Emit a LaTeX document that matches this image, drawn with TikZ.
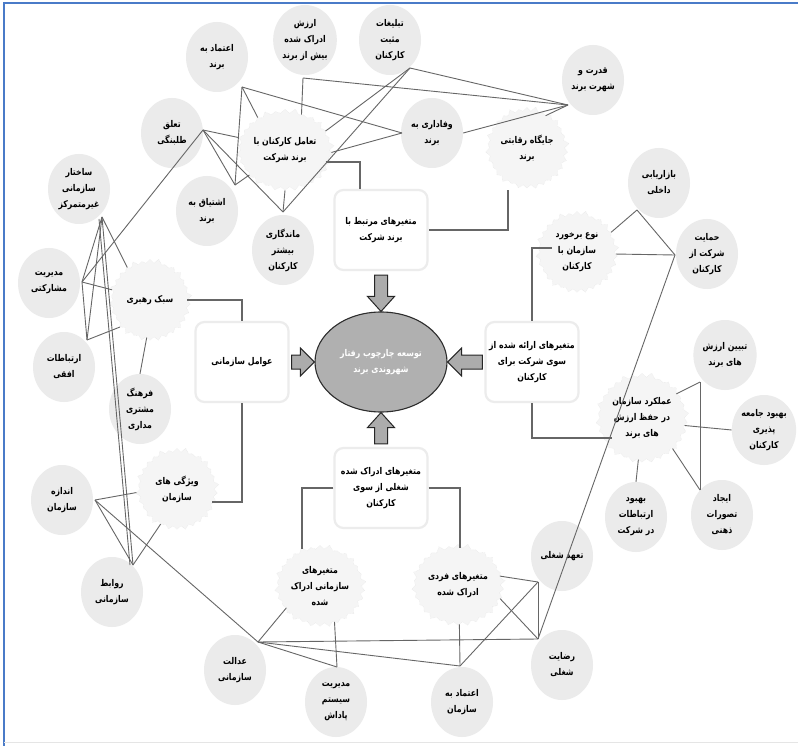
\documentclass[tikz,border=0pt]{standalone}
\usepackage{fontspec}
\usetikzlibrary{shapes.geometric,shapes.symbols,calc}
\TeXXeTstate=1
\newfontfamily\arabicfont[Script=Arabic,FakeStretch=0.84]{DejaVu Sans}
\newcommand\fa[1]{\beginR#1\endR}
\definecolor{framecol}{HTML}{4A7BC8}
\begin{document}
\begin{tikzpicture}[x=1pt,y=-1pt,
  txt/.style={align=center,font=\arabicfont\bfseries\fontsize{9.3}{16}\selectfont},
  leaf/.style={txt,ellipse,fill=gray!16,minimum width=62pt,minimum height=70pt,inner sep=0pt},
  burst/.style={txt,starburst,starburst points=30,starburst point height=5pt,
    fill=gray!8,draw=gray!22,densely dotted,minimum size=84pt,inner sep=0pt},
  box/.style={txt,rectangle,rounded corners=9pt,fill=white,draw=gray!15,line width=2.2pt,
    minimum width=93pt,minimum height=80pt,inner sep=1pt},
  core/.style={txt,ellipse,fill=gray!62,draw=gray!35!black,line width=1.1pt,
    minimum width=132pt,minimum height=100pt,text=white},
  elbow/.style={draw=gray!80!black,line width=1.3pt},
  web/.style={draw=gray!80!black,line width=0.9pt},
  barrow/.style={fill=gray!65,draw=gray!30!black,line width=1pt,line join=miter}]

\useasboundingbox (0,0) rectangle (798,746);
\fill[white] (0,0) rectangle (798,746);
% frame
\draw[framecol,line width=1.6pt] (4,746) -- (4,3) -- (798,3);
\draw[gray!20,line width=1pt] (4,742) -- (798,742);

% central concept and the four groups
\node[core] (core) at (381,362) {\fa{توسعه چارچوب رفتار}\\\fa{شهروندی برند}};
\node[box] (topbox) at (381,230) {\fa{متغیرهای مرتبط با}\\\fa{برند شرکت}};
\node[box] (leftbox) at (242,362) {\fa{عوامل سازمانی}};
\node[box] (rightbox) at (532,362) {\fa{متغیرهای ارائه شده از}\\\fa{سوی شرکت برای}\\\fa{کارکنان}};
\node[box] (bottombox) at (381,488) {\fa{متغیرهای ادراک شده}\\\fa{شغلی از سوی}\\\fa{کارکنان}};

% block arrows into the core
\path[barrow] ($(topbox.south)+(-6.5,4)$) -- ($(core.north)+(-6.5,-15)$) -- ($(core.north)+(-13.5,-15)$)
  -- (core.north) -- ($(core.north)+(13.5,-15)$) -- ($(core.north)+(6.5,-15)$) -- ($(topbox.south)+(6.5,4)$) -- cycle;
\path[barrow] ($(bottombox.north)+(-6.5,-3)$) -- ($(core.south)+(-6.5,15)$) -- ($(core.south)+(-13.5,15)$)
  -- (core.south) -- ($(core.south)+(13.5,15)$) -- ($(core.south)+(6.5,15)$) -- ($(bottombox.north)+(6.5,-3)$) -- cycle;
\path[barrow] ($(leftbox.east)+(2,-7)$) -- ($(core.west)+(-14,-7)$) -- ($(core.west)+(-14,-14)$)
  -- (core.west) -- ($(core.west)+(-14,14)$) -- ($(core.west)+(-14,7)$) -- ($(leftbox.east)+(2,7)$) -- cycle;
\path[barrow] ($(rightbox.west)+(-2,-7)$) -- ($(core.east)+(14,-7)$) -- ($(core.east)+(14,-14)$)
  -- (core.east) -- ($(core.east)+(14,14)$) -- ($(core.east)+(14,7)$) -- ($(rightbox.west)+(-2,7)$) -- cycle;

% sub-groups
\node[burst] (engage) at (285,150) {\fa{تعامل کارکنان با}\\\fa{برند شرکت}};
\node[burst] (compete) at (527,148) {\fa{جایگاه رقابتی}\\\fa{برند}};
\node[burst] (lead) at (150,300) {\fa{سبک رهبری}};
\node[burst] (orgtraits) at (177,489) {\fa{ویژگی های}\\\fa{سازمان}};
\node[burst] (treat) at (577,252) {\fa{نوع برخورد}\\\fa{سازمان با}\\\fa{کارکنان}};
\node[burst,minimum size=92pt] (perform) at (642,418) {\fa{عملکرد سازمان}\\\fa{در حفظ ارزش}\\\fa{های برند}};
\node[burst] (orgperc) at (320,586) {\fa{متغیرهای}\\\fa{سازمانی ادراک}\\\fa{شده}};
\node[burst] (indperc) at (458,585) {\fa{متغیرهای فردی}\\\fa{ادراک شده}};

% factors
\node[leaf] (trustbrand) at (217,57) {\fa{اعتماد به}\\\fa{برند}};
\node[leaf] (valueperc) at (305,40) {\fa{ارزش}\\\fa{ادراک شده}\\\fa{بیش از برند}};
\node[leaf] (advert) at (390,40) {\fa{تبلیغات}\\\fa{مثبت}\\\fa{کارکنان}};
\node[leaf] (power) at (593,80) {\fa{قدرت و}\\\fa{شهرت برند}};
\node[leaf] (loyal) at (432,133) {\fa{وفاداری به}\\\fa{برند}};
\node[leaf] (belong) at (172,133) {\fa{تعلق}\\\fa{طلبنگی}};
\node[leaf] (decent) at (79,189) {\fa{ساختار}\\\fa{سازمانی}\\\fa{غیرمتمرکز}};
\node[leaf] (passion) at (207,211) {\fa{اشتیاق به}\\\fa{برند}};
\node[leaf] (retain) at (283,250) {\fa{ماندگاری}\\\fa{بیشتر}\\\fa{کارکنان}};
\node[leaf] (partic) at (49,283) {\fa{مدیریت}\\\fa{مشارکتی}};
\node[leaf] (horiz) at (64,367) {\fa{ارتباطات}\\\fa{افقی}};
\node[leaf] (culture) at (140,409) {\fa{فرهنگ}\\\fa{مشتری}\\\fa{مداری}};
\node[leaf] (orgsize) at (62,500) {\fa{اندازه}\\\fa{سازمان}};
\node[leaf] (relations) at (112,592) {\fa{روابط}\\\fa{سازمانی}};
\node[leaf] (justice) at (235,670) {\fa{عدالت}\\\fa{سازمانی}};
\node[leaf] (reward) at (336,702) {\fa{مدیریت}\\\fa{سیستم}\\\fa{پاداش}};
\node[leaf] (trustorg) at (462,702) {\fa{اعتماد به}\\\fa{سازمان}};
\node[leaf] (satisf) at (562,665) {\fa{رضایت}\\\fa{شغلی}};
\node[leaf] (commit) at (562,556) {\fa{تعهد شغلی}};
\node[leaf] (intmkt) at (659,183) {\fa{بازاریابی}\\\fa{داخلی}};
\node[leaf] (support) at (707,254) {\fa{حمایت}\\\fa{شرکت از}\\\fa{کارکنان}};
\node[leaf] (explain) at (725,355) {\fa{تبیین ارزش}\\\fa{های برند}};
\node[leaf] (social) at (764,430) {\fa{بهبود جامعه}\\\fa{پذیری}\\\fa{کارکنان}};
\node[leaf] (mental) at (722,515) {\fa{ایجاد}\\\fa{تصورات}\\\fa{ذهنی}};
\node[leaf] (comms) at (636,517) {\fa{بهبود}\\\fa{ارتباطات}\\\fa{در شرکت}};

% group connectors
\draw[elbow] ($(engage.east)+(-4,12)$) -| ($(topbox.north)+(-21,0)$);
\draw[elbow] ($(compete.south)+(-19,2)$) |- (topbox.east);
\draw[elbow] (lead.east) -| (leftbox.north);
\draw[elbow] (leftbox.south) |- ($(orgtraits.east)+(-2,13)$);
\draw[elbow] (rightbox.north) |- ($(treat.west)+(12,-4)$);
\draw[elbow] (rightbox.south) |- ($(perform.west)+(12,20)$);
\draw[elbow] (bottombox.west) -| ($(orgperc.north)+(-18,4)$);
\draw[elbow] (bottombox.east) -| ($(indperc.north)+(2,4)$);

% junction points of the factor web
\coordinate (ja) at (242,87);
\coordinate (jb) at (303,78);
\coordinate (jc) at (410,68);
\coordinate (jd) at (568,105);
\coordinate (jw) at (402,133);
\coordinate (jv) at (203,130);
\coordinate (jt) at (235,185);
\coordinate (jm) at (283,212);
\coordinate (je) at (102,217);
\coordinate (je2) at (99,219);
\coordinate (jf) at (82,282);
\coordinate (jg) at (87,340);
\coordinate (jh) at (133,565);
\coordinate (jh2) at (130,565);
\coordinate (ji) at (95,500);
\coordinate (jj) at (258,642);
\coordinate (jl) at (337,667);
\coordinate (jx) at (460,666);
\coordinate (jk) at (538,639);
\coordinate (jn) at (538,582);
\coordinate (jo) at (675,255);
\coordinate (jp) at (637,210);
\coordinate (jq) at (700,382);
\coordinate (jr) at (700,490);

% factor web
\draw[web] (ja) -- (jw);
\draw[web] (ja) -- (engage.130);
\draw[web] (ja) -- (jt);
\draw[web] (jb) -- (engage.65);
\draw[web] (jb) -- (jd);
\draw[web] (jc) -- (jd);
\draw[web] (jc) -- (jm);
\draw[web] (jc) -- (engage.25);
\draw[web] (jd) -- (loyal.east);
\draw[web] (jd) -- (compete.60);
\draw[web] (jw) -- (engage.-3);
\draw[web] (jv) -- (engage.165);
\draw[web] (jv) -- (jt);
\draw[web] (jv) -- (jm);
\draw[web] (jv) -- (jf);
\draw[web] (jt) -- (engage.215);
\draw[web] (jm) -- (engage.south);
\draw[web] (je) -- (jf);
\draw[web] (je) -- (jg);
\draw[web] (je) -- (jh);
\draw[web] (je2) -- (jh2);
\draw[web] (je) -- (lead.125);
\draw[web] (jf) -- (lead.165);
\draw[web] (jf) -- (jg);
\draw[web] (jg) -- (lead.222);
\draw[web] (lead.265) -- (culture.north);
\draw[web] (ji) -- (orgtraits.185);
\draw[web] (ji) -- (jh);
\draw[web] (ji) -- (jj);
\draw[web] (jh) -- (orgtraits.245);
\draw[web] (jj) -- (orgperc.213);
\draw[web] (jj) -- (jk);
\draw[web] (jj) -- (jl);
\draw[web] (jj) -- (jx);
\draw[web] (jl) -- (orgperc.292);
\draw[web] (jx) -- (indperc.272);
\draw[web] (jx) -- (jn);
\draw[web] (jk) -- (jn);
\draw[web] (jk) -- (indperc.-18);
\draw[web] (jk) -- (jo);
\draw[web] (jn) -- (indperc.12);
\draw[web] (jo) -- (jp);
\draw[web] (jo) -- (treat.-3);
\draw[web] (jp) -- (treat.30);
\draw[web] (jq) -- (perform.35);
\draw[web] (jq) -- (jr);
\draw[web] (jr) -- (perform.-45);
\draw[web] (perform.-10) -- (social.west);
\draw[web] (perform.265) -- (comms.north);
\end{tikzpicture}
\end{document}
